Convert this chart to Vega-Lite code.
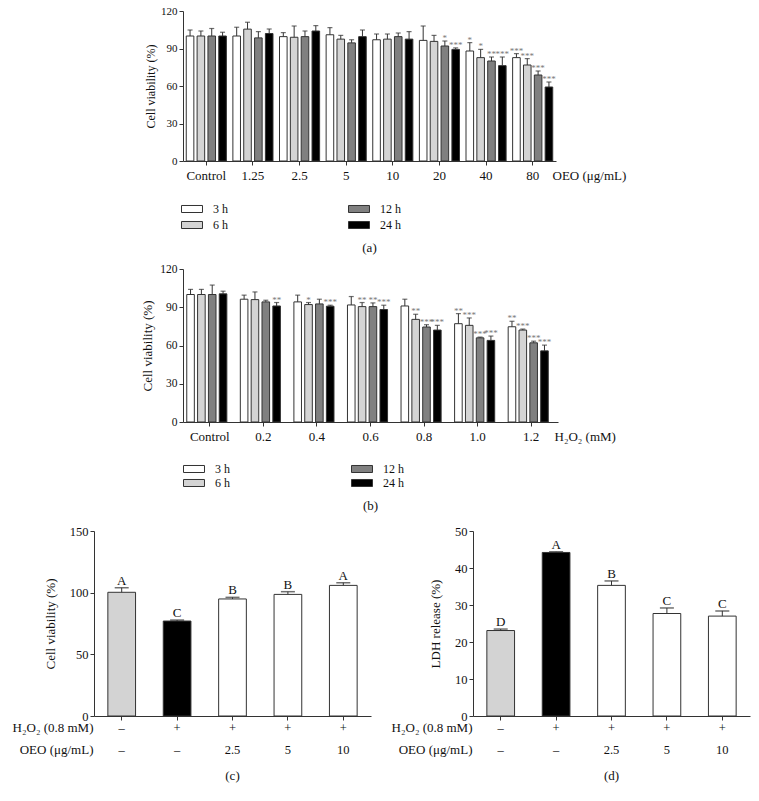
{
"$schema":"https://vega.github.io/schema/vega-lite/v6.json",
"background":"white",
"padding":{"left":12,"top":5,"right":5,"bottom":5},
"config":{
 "font":"Liberation Serif",
 "view":{"stroke":null},
 "axis":{"grid":false,"labelFont":"Liberation Serif","titleFont":"Liberation Serif","domainColor":"#333","tickColor":"#333","labelColor":"#111","titleColor":"#111","titleFontWeight":"normal","labelFontSize":12,"tickSize":4,"domainWidth":1,"labelPadding":2,"labelOverlap":false,"labelFlush":false},
 "legend":{"labelFont":"Liberation Serif","labelFontSize":12,"labelColor":"#111"},
 "title":{"font":"Liberation Serif","fontWeight":"normal","fontSize":13,"color":"#111"},
 "text":{"font":"Liberation Serif"}
},
"datasets":{
 "a":[
  {"dose":"Control","time":"3 h","mean":100,"upper":104.8,"star":""},
  {"dose":"Control","time":"6 h","mean":100,"upper":104,"star":""},
  {"dose":"Control","time":"12 h","mean":100,"upper":106,"star":""},
  {"dose":"Control","time":"24 h","mean":100,"upper":103,"star":""},
  {"dose":"1.25","time":"3 h","mean":100,"upper":107,"star":""},
  {"dose":"1.25","time":"6 h","mean":105.5,"upper":111,"star":""},
  {"dose":"1.25","time":"12 h","mean":98.5,"upper":103.5,"star":""},
  {"dose":"1.25","time":"24 h","mean":102,"upper":105.6,"star":""},
  {"dose":"2.5","time":"3 h","mean":99.5,"upper":102.7,"star":""},
  {"dose":"2.5","time":"6 h","mean":99,"upper":108,"star":""},
  {"dose":"2.5","time":"12 h","mean":99.5,"upper":104,"star":""},
  {"dose":"2.5","time":"24 h","mean":104,"upper":108.3,"star":""},
  {"dose":"5","time":"3 h","mean":101,"upper":106.7,"star":""},
  {"dose":"5","time":"6 h","mean":97.5,"upper":100.5,"star":""},
  {"dose":"5","time":"12 h","mean":94.5,"upper":97,"star":""},
  {"dose":"5","time":"24 h","mean":99.5,"upper":104.8,"star":""},
  {"dose":"10","time":"3 h","mean":97,"upper":101.6,"star":""},
  {"dose":"10","time":"6 h","mean":97.5,"upper":101.6,"star":""},
  {"dose":"10","time":"12 h","mean":99.5,"upper":102.4,"star":""},
  {"dose":"10","time":"24 h","mean":97.5,"upper":103.5,"star":""},
  {"dose":"20","time":"3 h","mean":96.5,"upper":108,"star":""},
  {"dose":"20","time":"6 h","mean":95.7,"upper":100.5,"star":""},
  {"dose":"20","time":"12 h","mean":92,"upper":96,"star":"*"},
  {"dose":"20","time":"24 h","mean":89.3,"upper":90.5,"star":"***"},
  {"dose":"40","time":"3 h","mean":88,"upper":94.7,"star":"*"},
  {"dose":"40","time":"6 h","mean":82.7,"upper":89.3,"star":"*"},
  {"dose":"40","time":"12 h","mean":80,"upper":83.2,"star":"**"},
  {"dose":"40","time":"24 h","mean":76.3,"upper":83.2,"star":"***"},
  {"dose":"80","time":"3 h","mean":82.7,"upper":85.9,"star":"***"},
  {"dose":"80","time":"6 h","mean":76.8,"upper":81.9,"star":"***"},
  {"dose":"80","time":"12 h","mean":68.8,"upper":72,"star":"***"},
  {"dose":"80","time":"24 h","mean":59.2,"upper":63.2,"star":"***"}
 ],
 "b":[
  {"dose":"Control","time":"3 h","mean":100,"upper":104,"star":""},
  {"dose":"Control","time":"6 h","mean":100,"upper":104,"star":""},
  {"dose":"Control","time":"12 h","mean":100,"upper":107.4,"star":""},
  {"dose":"Control","time":"24 h","mean":100.5,"upper":102.6,"star":""},
  {"dose":"0.2","time":"3 h","mean":96.3,"upper":99.5,"star":""},
  {"dose":"0.2","time":"6 h","mean":96,"upper":102,"star":""},
  {"dose":"0.2","time":"12 h","mean":94.2,"upper":95.5,"star":""},
  {"dose":"0.2","time":"24 h","mean":91,"upper":93.7,"star":"**"},
  {"dose":"0.4","time":"3 h","mean":94.2,"upper":99.5,"star":""},
  {"dose":"0.4","time":"6 h","mean":92.1,"upper":93.7,"star":"*"},
  {"dose":"0.4","time":"12 h","mean":92.6,"upper":96.3,"star":""},
  {"dose":"0.4","time":"24 h","mean":90.8,"upper":91.6,"star":"***"},
  {"dose":"0.6","time":"3 h","mean":91.8,"upper":98.4,"star":""},
  {"dose":"0.6","time":"6 h","mean":90.5,"upper":93.7,"star":"**"},
  {"dose":"0.6","time":"12 h","mean":90.5,"upper":93.4,"star":"**"},
  {"dose":"0.6","time":"24 h","mean":88.2,"upper":91.6,"star":"***"},
  {"dose":"0.8","time":"3 h","mean":91,"upper":96.3,"star":""},
  {"dose":"0.8","time":"6 h","mean":80.5,"upper":84.5,"star":"**"},
  {"dose":"0.8","time":"12 h","mean":74.5,"upper":76.3,"star":"***"},
  {"dose":"0.8","time":"24 h","mean":72.1,"upper":75.8,"star":"***"},
  {"dose":"1.0","time":"3 h","mean":77.1,"upper":85,"star":"**"},
  {"dose":"1.0","time":"6 h","mean":75.8,"upper":81.6,"star":"***"},
  {"dose":"1.0","time":"12 h","mean":66,"upper":66.6,"star":"***"},
  {"dose":"1.0","time":"24 h","mean":64,"upper":67.4,"star":"***"},
  {"dose":"1.2","time":"3 h","mean":74.7,"upper":79,"star":"**"},
  {"dose":"1.2","time":"6 h","mean":72.1,"upper":72.9,"star":"***"},
  {"dose":"1.2","time":"12 h","mean":62.1,"upper":63.4,"star":"***"},
  {"dose":"1.2","time":"24 h","mean":55.8,"upper":60.3,"star":"***"}
 ],
 "c":[
  {"cond":"–|–","grp":"Control","mean":100.3,"upper":104,"letter":"A"},
  {"cond":"+|–","grp":"H2O2","mean":77,"upper":77.8,"letter":"C"},
  {"cond":"+|2.5","grp":"OEO","mean":94.9,"upper":96.2,"letter":"B"},
  {"cond":"+|5","grp":"OEO","mean":98.6,"upper":100.8,"letter":"B"},
  {"cond":"+|10","grp":"OEO","mean":105.9,"upper":108.1,"letter":"A"}
 ],
 "d":[
  {"cond":"–|–","grp":"Control","mean":23.1,"upper":23.5,"letter":"D"},
  {"cond":"+|–","grp":"H2O2","mean":44.2,"upper":44.4,"letter":"A"},
  {"cond":"+|2.5","grp":"OEO","mean":35.3,"upper":36.5,"letter":"B"},
  {"cond":"+|5","grp":"OEO","mean":27.7,"upper":29.2,"letter":"C"},
  {"cond":"+|10","grp":"OEO","mean":27,"upper":28.4,"letter":"C"}
 ]
},
"resolve":{"scale":{"fill":"independent"}},
"spacing":12,
"vconcat":[
 {"spacing":0,"resolve":{"scale":{"fill":"independent"}},"hconcat":[
  {"width":47,"height":10,"data":{"values":[{"k":0}]},"mark":{"type":"point","opacity":0},"encoding":{}},
  {"spacing":8,"resolve":{"scale":{"fill":"independent"}},"vconcat":[
   {
    "width":373,"height":150,
    "data":{"name":"a"},
    "title":{"text":"(a)","orient":"bottom","offset":11,"fontSize":13},
    "encoding":{
     "x":{"field":"dose","type":"nominal","sort":["Control","1.25","2.5","5","10","20","40","80"],"scale":{"paddingInner":0.14,"paddingOuter":0.07},
      "axis":{"labelAngle":0,"labelFontSize":13,"labelPadding":4,"title":"OEO (μg/mL)","titleFontSize":13,"titleAlign":"left","titleBaseline":"top","titleX":369,"titleY":8}},
     "xOffset":{"field":"time","type":"nominal","sort":["3 h","6 h","12 h","24 h"],"scale":{"paddingInner":0.3}}
    },
    "layer":[
     {"mark":{"type":"bar","stroke":"#333","strokeWidth":1},
      "encoding":{
       "y":{"field":"mean","type":"quantitative","scale":{"domain":[0,120],"nice":false},"axis":{"values":[0,30,60,90,120],"labelFontSize":11,"title":"Cell viability (%)","titleFontSize":12,"titlePadding":3}},
       "fill":{"field":"time","type":"nominal","scale":{"domain":["3 h","6 h","12 h","24 h"],"range":["#ffffff","#d4d4d4","#808080","#000000"]},
        "legend":{"orient":"none","legendX":3,"legendY":192,"columns":2,"title":null,"symbolType":"M-2,-0.67H2V0.67H-2Z","symbolSize":110,"symbolStrokeColor":"#333","symbolStrokeWidth":1,"labelFontSize":12,"labelOffset":15,"columnPadding":118,"rowPadding":4}}}},
     {"mark":{"type":"rule","color":"#333","strokeWidth":1},"encoding":{"y":{"field":"mean","type":"quantitative","axis":{"values":[0,30,60,90,120],"labelFontSize":11,"title":"Cell viability (%)","titleFontSize":12,"titlePadding":3}},"y2":{"field":"upper"}}},
     {"mark":{"type":"tick","color":"#333","size":5,"thickness":1.2},"encoding":{"y":{"field":"upper","type":"quantitative","axis":{"values":[0,30,60,90,120],"labelFontSize":11,"title":"Cell viability (%)","titleFontSize":12,"titlePadding":3}}}},
     {"mark":{"type":"text","fontSize":9,"color":"#777","baseline":"alphabetic"},"encoding":{"y":{"field":"upper","type":"quantitative","axis":{"values":[0,30,60,90,120],"labelFontSize":11,"title":"Cell viability (%)","titleFontSize":12,"titlePadding":3}},"text":{"field":"star"}}}
    ]
   },
   {
    "width":375,"height":153,
    "data":{"name":"b"},
    "title":{"text":"(b)","orient":"bottom","offset":11,"fontSize":13},
    "encoding":{
     "x":{"field":"dose","type":"nominal","sort":["Control","0.2","0.4","0.6","0.8","1.0","1.2"],"scale":{"paddingInner":0.14,"paddingOuter":0.07},
      "axis":{"labelAngle":0,"labelFontSize":13,"labelPadding":4,"title":"H₂O₂ (mM)","titleFontSize":13,"titleAlign":"left","titleBaseline":"top","titleX":371,"titleY":8}},
     "xOffset":{"field":"time","type":"nominal","sort":["3 h","6 h","12 h","24 h"],"scale":{"paddingInner":0.3}}
    },
    "layer":[
     {"mark":{"type":"bar","stroke":"#333","strokeWidth":1},
      "encoding":{
       "y":{"field":"mean","type":"quantitative","scale":{"domain":[0,120],"nice":false},"axis":{"values":[0,30,60,90,120],"labelFontSize":11.5,"title":"Cell viability (%)","titleFontSize":13,"titlePadding":5}},
       "fill":{"field":"time","type":"nominal","scale":{"domain":["3 h","6 h","12 h","24 h"],"range":["#ffffff","#d4d4d4","#808080","#000000"]},
        "legend":{"orient":"none","legendX":5,"legendY":194,"columns":2,"title":null,"symbolType":"M-2,-0.67H2V0.67H-2Z","symbolSize":110,"symbolStrokeColor":"#333","symbolStrokeWidth":1,"labelFontSize":12,"labelOffset":15,"columnPadding":119,"rowPadding":2}}}},
     {"mark":{"type":"rule","color":"#333","strokeWidth":1},"encoding":{"y":{"field":"mean","type":"quantitative","axis":{"values":[0,30,60,90,120],"labelFontSize":11.5,"title":"Cell viability (%)","titleFontSize":13,"titlePadding":5}},"y2":{"field":"upper"}}},
     {"mark":{"type":"tick","color":"#333","size":5,"thickness":1.2},"encoding":{"y":{"field":"upper","type":"quantitative","axis":{"values":[0,30,60,90,120],"labelFontSize":11.5,"title":"Cell viability (%)","titleFontSize":13,"titlePadding":5}}}},
     {"mark":{"type":"text","fontSize":9,"color":"#777","baseline":"alphabetic"},"encoding":{"y":{"field":"upper","type":"quantitative","axis":{"values":[0,30,60,90,120],"labelFontSize":11.5,"title":"Cell viability (%)","titleFontSize":13,"titlePadding":5}},"text":{"field":"star"}}}
    ]
   }
  ]}
 ]},
 {"spacing":20,"resolve":{"scale":{"fill":"independent"}},"hconcat":[
  {
   "width":277,"height":185,
   "data":{"name":"c"},
   "title":{"text":"(c)","orient":"bottom","offset":14,"fontSize":13},
   "encoding":{
    "x":{"field":"cond","type":"nominal","sort":["–|–","+|–","+|2.5","+|5","+|10"],"scale":{"paddingInner":0.5,"paddingOuter":0.25},
     "axis":{"labelAngle":0,"labelExpr":"split(datum.value,'|')","labelLineHeight":22,"labelBaseline":"middle","labelPadding":7,"labelFontSize":12.5,"title":["H₂O₂ (0.8 mM)","OEO (μg/mL)"],"titleFontSize":13,"titleLineHeight":22,"titleAlign":"right","titleBaseline":"middle","titleX":-1,"titleY":11}}
   },
   "layer":[
    {"mark":{"type":"bar","stroke":"#333","strokeWidth":1},
     "encoding":{
      "y":{"field":"mean","type":"quantitative","scale":{"domain":[0,150],"nice":false},"axis":{"values":[0,50,100,150],"labelFontSize":12.5,"title":"Cell viability (%)","titleFontSize":13,"titlePadding":12}},
      "fill":{"field":"grp","type":"nominal","scale":{"domain":["Control","H2O2","OEO"],"range":["#d3d3d3","#000000","#ffffff"]},"legend":null}}},
    {"mark":{"type":"rule","color":"#333","strokeWidth":1},"encoding":{"y":{"field":"mean","type":"quantitative","axis":{"values":[0,50,100,150],"labelFontSize":12.5,"title":"Cell viability (%)","titleFontSize":13,"titlePadding":12}},"y2":{"field":"upper"}}},
    {"mark":{"type":"tick","color":"#333","size":14,"thickness":1.5},"encoding":{"y":{"field":"upper","type":"quantitative","axis":{"values":[0,50,100,150],"labelFontSize":12.5,"title":"Cell viability (%)","titleFontSize":13,"titlePadding":12}}}},
    {"mark":{"type":"text","fontSize":13,"color":"#111","baseline":"alphabetic","dy":-3},"encoding":{"y":{"field":"upper","type":"quantitative","axis":{"values":[0,50,100,150],"labelFontSize":12.5,"title":"Cell viability (%)","titleFontSize":13,"titlePadding":12}},"text":{"field":"letter"}}}
   ]
  },
  {
   "width":277,"height":185,
   "data":{"name":"d"},
   "title":{"text":"(d)","orient":"bottom","offset":14,"fontSize":13},
   "encoding":{
    "x":{"field":"cond","type":"nominal","sort":["–|–","+|–","+|2.5","+|5","+|10"],"scale":{"paddingInner":0.5,"paddingOuter":0.25},
     "axis":{"labelAngle":0,"labelExpr":"split(datum.value,'|')","labelLineHeight":22,"labelBaseline":"middle","labelPadding":7,"labelFontSize":12.5,"title":["H₂O₂ (0.8 mM)","OEO (μg/mL)"],"titleFontSize":13,"titleLineHeight":22,"titleAlign":"right","titleBaseline":"middle","titleX":-1,"titleY":11}}
   },
   "layer":[
    {"mark":{"type":"bar","stroke":"#333","strokeWidth":1},
     "encoding":{
      "y":{"field":"mean","type":"quantitative","scale":{"domain":[0,50],"nice":false},"axis":{"values":[0,10,20,30,40,50],"labelFontSize":12.5,"title":"LDH release (%)","titleFontSize":13,"titlePadding":12}},
      "fill":{"field":"grp","type":"nominal","scale":{"domain":["Control","H2O2","OEO"],"range":["#d3d3d3","#000000","#ffffff"]},"legend":null}}},
    {"mark":{"type":"rule","color":"#333","strokeWidth":1},"encoding":{"y":{"field":"mean","type":"quantitative","axis":{"values":[0,10,20,30,40,50],"labelFontSize":12.5,"title":"LDH release (%)","titleFontSize":13,"titlePadding":12}},"y2":{"field":"upper"}}},
    {"mark":{"type":"tick","color":"#333","size":14,"thickness":1.5},"encoding":{"y":{"field":"upper","type":"quantitative","axis":{"values":[0,10,20,30,40,50],"labelFontSize":12.5,"title":"LDH release (%)","titleFontSize":13,"titlePadding":12}}}},
    {"mark":{"type":"text","fontSize":13,"color":"#111","baseline":"alphabetic","dy":-3},"encoding":{"y":{"field":"upper","type":"quantitative","axis":{"values":[0,10,20,30,40,50],"labelFontSize":12.5,"title":"LDH release (%)","titleFontSize":13,"titlePadding":12}},"text":{"field":"letter"}}}
   ]
  }
 ]}
]
}
